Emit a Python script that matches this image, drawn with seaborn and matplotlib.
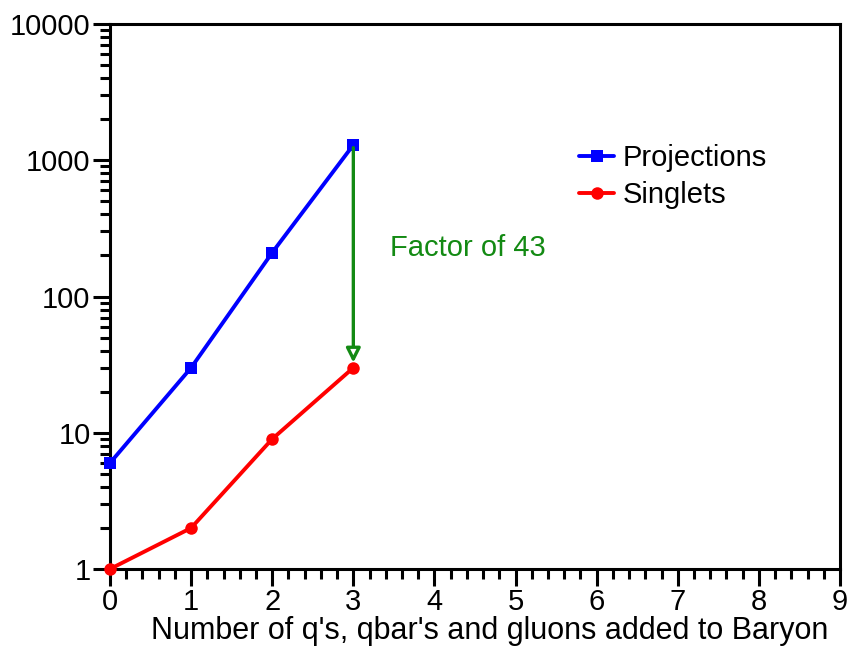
import matplotlib
matplotlib.use("Agg")
import matplotlib.pyplot as plt
import matplotlib.ticker as mticker
import seaborn as sns
import pandas as pd

# Counts versus number of added partons
added = [0, 1, 2, 3]
projections = [6, 30, 210, 1296]
singlets = [1, 2, 9, 30]
series_names = ["Projections", "Singlets"]
y_ticks = [1, 10, 100, 1000, 10000]
x_ticks = list(range(10))
factor_label = "Factor of 43"

sns.set_theme(style="white")
plt.rcParams["font.family"] = ["Liberation Sans", "DejaVu Sans"]
plt.rcParams["text.color"] = "black"
plt.rcParams["axes.labelcolor"] = "black"
plt.rcParams["xtick.color"] = "black"
plt.rcParams["ytick.color"] = "black"

df = pd.DataFrame({
    "x": added * 2,
    "y": projections + singlets,
    "series": [series_names[0]] * len(added) + [series_names[1]] * len(added),
})

fig = plt.figure(figsize=(8.49, 6.48), dpi=100)
ax = fig.add_axes([110 / 849, 1 - 569 / 648, 730 / 849, 545 / 648])

sns.lineplot(data=df, x="x", y="y", hue="series", style="series",
             palette={series_names[0]: "#0000ff", series_names[1]: "#ff0000"},
             markers={series_names[0]: "s", series_names[1]: "o"},
             dashes=False, linewidth=2.8, markersize=9, markeredgewidth=0,
             ax=ax, clip_on=False, zorder=5)

ax.set_yscale("log")
ax.set_xlim(0, 9)
ax.set_ylim(1, 10000)
ax.set_yticks(y_ticks)
ax.set_yticklabels([str(v) for v in y_ticks])
ax.yaxis.set_minor_locator(mticker.LogLocator(base=10, subs=range(2, 10)))
ax.yaxis.set_minor_formatter(mticker.NullFormatter())
ax.set_xticks(x_ticks)
ax.xaxis.set_minor_locator(mticker.MultipleLocator(0.2))

ax.tick_params(axis="both", which="major", direction="out", length=12, width=2.2,
               labelsize=21, color="black", labelcolor="black", pad=2,
               top=False, right=False, left=True, bottom=True)
ax.tick_params(axis="both", which="minor", direction="out", length=7, width=2.2,
               color="black", top=False, right=False, left=True, bottom=True)
for side in ["left", "bottom", "top", "right"]:
    ax.spines[side].set_visible(True)
    ax.spines[side].set_color("black")
    ax.spines[side].set_linewidth(2.2)

ax.set_xlabel("Number of q's, qbar's and gluons added to Baryon", fontsize=22,
              labelpad=0, color="black")
ax.xaxis.set_label_coords(0.5205, -0.086)
ax.set_ylabel("")

# Gap between the two curves at the last point
ax.annotate("", xy=(added[-1], singlets[-1] * 1.04),
            xytext=(added[-1], projections[-1]),
            arrowprops=dict(arrowstyle="-|>,head_length=0.7,head_width=0.35",
                            color="#138a13", lw=2.4, fc="white"),
            zorder=6)
ax.text(3.45, 227, factor_label, color="#138a13", fontsize=21,
        va="center", ha="left")

leg = ax.legend(loc="upper left", bbox_to_anchor=(0.607, 0.828), frameon=False,
                fontsize=21, handlelength=1.2, handletextpad=0.3,
                labelspacing=0.3)
for t in leg.get_texts():
    t.set_color("black")

fig.savefig("out.png", dpi=100)
